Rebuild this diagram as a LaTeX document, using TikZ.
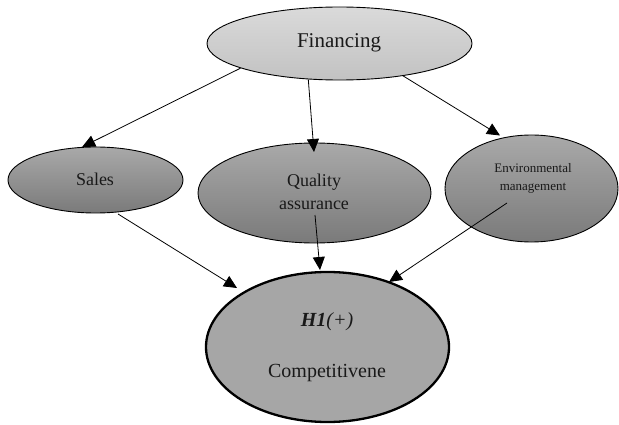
\documentclass[tikz,border=0pt]{standalone}
\usepackage{fontspec}
\setmainfont{Liberation Serif}
\usetikzlibrary{shapes.geometric,arrows.meta,calc}
\definecolor{finTop}{HTML}{DADADA}
\definecolor{finBot}{HTML}{C2C2C2}
\definecolor{midTop}{HTML}{A9A9A9}
\definecolor{midBot}{HTML}{7A7A7A}
\definecolor{compFill}{HTML}{A6A6A6}
\tikzset{
  oval/.style={ellipse, draw=black, line width=0.9pt, inner sep=0pt},
  finoval/.style={oval, top color=finTop, bottom color=finBot},
  midoval/.style={oval, top color=midTop, bottom color=midBot},
  compoval/.style={ellipse, draw=black, line width=2.3pt, fill=compFill, inner sep=0pt},
  lbl/.style={inner sep=0pt, text=black!90, align=center},
  conn/.style={line width=0.8pt, -{Triangle[length=13pt,width=12pt]}}
}
\begin{document}
\begin{tikzpicture}[x=1pt,y=-1pt]
\useasboundingbox (0,0) rectangle (619,425);
% ellipses
\node[finoval, minimum width=265pt, minimum height=73pt] (fin) at (339.5,43.5) {};
\node[midoval, minimum width=175pt, minimum height=66pt] (sales) at (95.5,180) {};
\node[midoval, minimum width=233pt, minimum height=100pt] (qa) at (314.5,193) {};
\node[midoval, minimum width=173pt, minimum height=107pt] (env) at (531.5,188.5) {};
\node[compoval, minimum width=243pt, minimum height=150pt] (comp) at (327.5,347) {};
% texts
\node[lbl, font=\fontsize{21}{25}\selectfont] (tfin) at (339,43) {Financing};
\node[lbl, font=\fontsize{18}{22}\selectfont] (tsales) at (95,179) {Sales};
\node[lbl, font=\fontsize{18}{23}\selectfont] (tqa) at (314,191.5) {Quality\\assurance};
\node[lbl, font=\fontsize{13}{18}\selectfont] (tenv) at (533,178) {Environmental\\management};
\node[lbl, font=\fontsize{20}{24}\selectfont] (th1) at (327,322) {\textbf{\textit{H1}}\textit{(+)}};
\node[lbl, font=\fontsize{20}{24}\selectfont] (tcomp) at (327,373) {Competitivene};
% connectors
\draw[conn] (fin.194) -- (sales.112);
\draw[conn] (fin.229) -- ($(qa.center)+(-0.5,-41)$);
\draw[conn] (fin.333) -- ($(env.center)+(-31.5,-53)$);
\draw[conn] ($(sales.center)+(22.5,34)$) -- ($(comp.center)+(-90.5,-59)$);
\draw[conn] ($(qa.center)+(0.5,22)$) -- ($(comp.center)+(-7.5,-77)$);
\draw[conn] ($(env.center)+(-24.5,14.5)$) -- ($(comp.center)+(61.5,-65)$);
\end{tikzpicture}
\end{document}
